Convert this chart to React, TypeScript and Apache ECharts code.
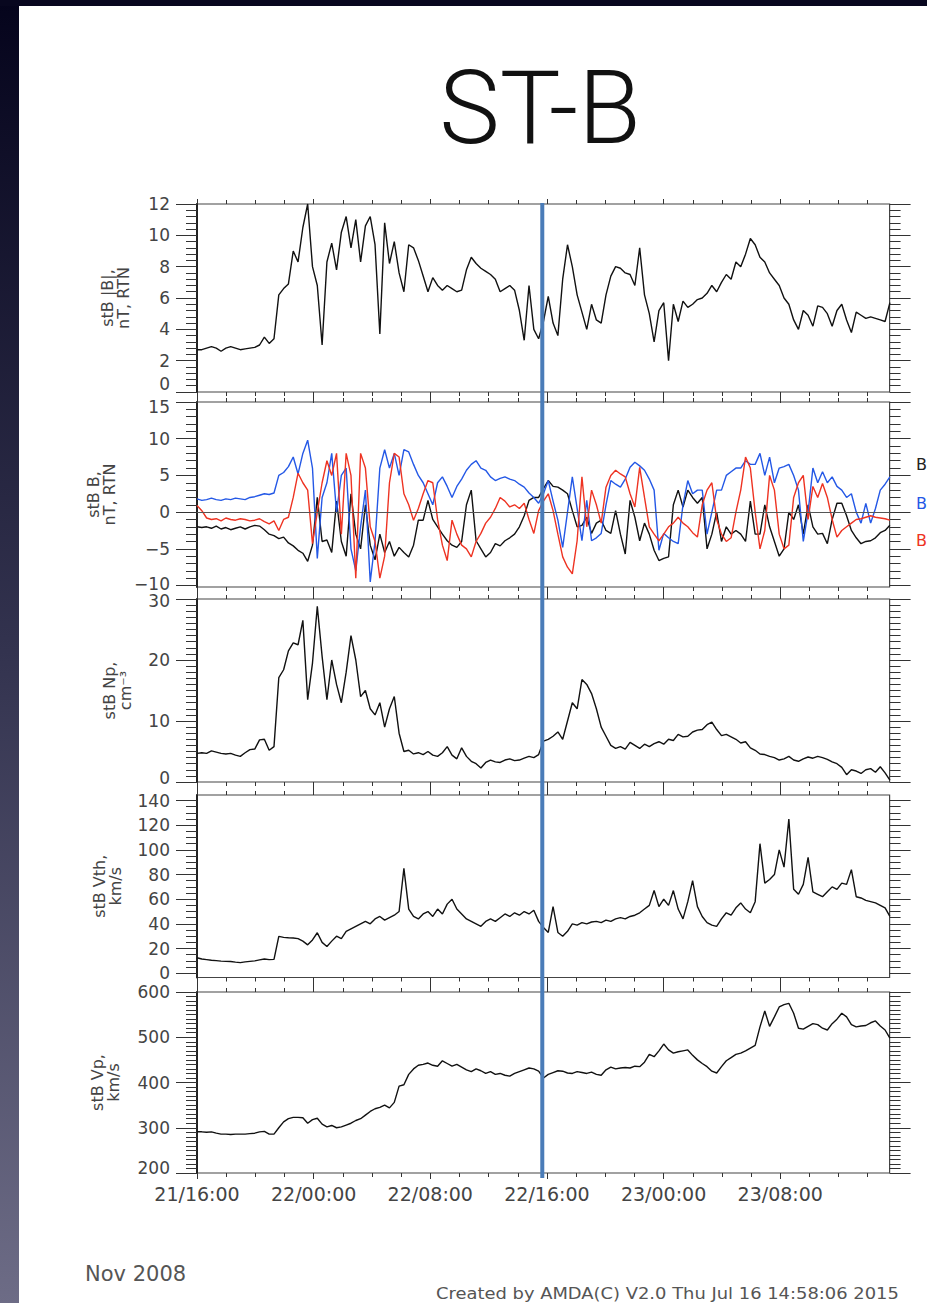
import React, { useEffect, useRef } from "react";
import * as echarts from "echarts";

// Time axis: hours since 2008-11-21 16:00 UT, one sample every 0.33 h
const SAMPLE_HOURS = 0.33;
const AXIS_END_HOURS = 47.5;
const MAJOR_HOURS = [0, 8, 16, 24, 32, 40];
const TIME_LABELS = ["21/16:00", "22/00:00", "22/08:00", "22/16:00", "23/00:00", "23/08:00"];
const MINOR_HOURS = [2, 4, 6, 10, 12, 14, 18, 20, 22, 26, 28, 30, 34, 36, 38, 42, 44, 46];
const MARKER_HOURS = 23.68;

// Y tick labels of the five panels
const B_TICKS = [0, 2, 4, 6, 8, 10, 12];
const BRTN_TICKS = [-10, -5, 0, 5, 10, 15];
const NP_TICKS = [0, 10, 20, 30];
const VTH_TICKS = [0, 20, 40, 60, 80, 100, 120, 140];
const VP_TICKS = [200, 300, 400, 500, 600];

// |B| (nT)
const B_MAG = [
  2.7, 2.7, 2.8, 2.9, 2.8, 2.6, 2.8, 2.9, 2.8, 2.7,
  2.75, 2.8, 2.85, 3.0, 3.5, 3.1, 3.4, 6.2, 6.6, 6.9,
  9.0, 8.3, 10.5, 12.0, 8.0, 6.8, 3.0, 8.3, 9.5, 7.8,
  10.2, 11.2, 9.2, 11.0, 8.3, 10.6, 11.2, 9.4, 3.7, 10.8,
  8.2, 9.6, 7.6, 6.4, 9.4, 9.2, 8.4, 7.4, 6.4, 7.3,
  6.8, 6.5, 6.8, 6.6, 6.4, 6.5, 7.8, 8.6, 8.2, 7.9,
  7.7, 7.5, 7.2, 6.4, 6.6, 6.8, 6.5, 5.2, 3.3, 6.8,
  4.0, 3.4, 4.5, 6.1, 4.4, 3.6, 7.2, 9.4, 8.0, 6.2,
  5.1, 4.0, 5.6, 4.6, 4.4, 6.2, 7.4, 8.0, 7.9, 7.6,
  7.5, 6.8, 9.2, 6.2, 5.0, 3.2, 5.2, 5.7, 2.0, 5.6,
  4.5, 5.8, 5.4, 5.6, 5.9, 6.0, 6.3, 6.8, 6.4, 7.0,
  7.5, 7.2, 8.3, 8.0, 8.8, 9.8, 9.4, 8.6, 8.3, 7.6,
  7.2, 6.8, 6.0, 5.6, 4.6, 4.0, 5.2, 4.9, 4.2, 5.5,
  5.4, 5.0, 4.2, 5.2, 5.6, 4.6, 3.8, 5.1, 4.9, 4.7,
  4.8, 4.7, 4.6, 4.5, 5.7,
];

// B components in RTN (nT)
const B_R = [
  -2.0, -2.1, -2.0, -2.2, -1.9, -2.3, -2.1, -2.4, -2.2, -2.0,
  -2.3, -2.0, -1.8, -1.9, -2.4, -3.0, -3.2, -3.6, -3.4, -4.2,
  -4.6, -5.2, -5.6, -6.7, -4.5, 2.0, -4.0, -3.8, -5.5, 1.5,
  -4.0, -6.0, 2.5, -3.0, -5.0, 1.0, -4.5, -6.5, -3.0, -5.5,
  -4.0, -6.0, -4.8, -5.5, -6.1, -4.5, -1.1, -1.1, 1.6, -1.0,
  -2.0, -3.0, -3.9, -4.5, -4.8, -4.0, 1.0, 3.0, -3.9, -5.0,
  -6.1, -5.5, -4.3, -4.6, -3.9, -3.5, -3.0, -2.0, -0.5, 1.6,
  2.0, 2.0, 3.2, 4.3, 3.5, 3.4, 3.0, 2.5, 0.2, -2.0,
  -1.8, -0.7, -2.9, -1.5, -1.1, -2.5, -2.9, 0.2, -3.0, -5.7,
  1.6, -0.7, -3.9, -1.5, -3.0, -5.2, -6.6, -6.3, -6.1, 1.0,
  3.0, 0.7, 3.0, 2.0, 1.2, 2.0, -5.0, -3.0, 0.0, -4.0,
  -2.0, -3.0, -2.5, -3.0, -4.0, 1.5, -3.0, -3.0, 1.0, -2.0,
  -4.0, -6.0, -5.0, 0.0, -1.0, 1.0, -3.0, 1.0, -2.0, -3.0,
  -2.9, -4.3, -1.0, 1.2, 1.2, -0.5, -2.5, -3.5, -4.3, -4.0,
  -3.9, -3.5, -2.8, -2.5, -1.8,
];
const B_T = [
  1.8, 1.6, 1.7, 1.9, 1.7, 1.6, 1.8, 1.7, 1.9, 1.8,
  1.7, 2.0, 2.1, 2.3, 2.5, 2.4, 2.6, 5.0, 5.4, 6.2,
  7.5, 5.2, 8.0, 9.8, 6.0, -6.3, 2.0, 4.0, 8.0, 0.0,
  5.0, 6.0, -5.0, -8.0, -2.0, 3.0, -9.5, -4.0, 6.0, 8.5,
  6.0, 8.0, 5.0, 8.5, 8.2, 6.5, 5.0, 4.0, 2.5, 1.0,
  4.0, 4.8, 3.5, 2.0, 3.5, 4.5, 5.7, 6.5, 7.0, 6.0,
  5.7, 4.8, 4.3, 4.6, 4.8, 4.5, 4.3, 3.8, 3.4, 2.6,
  2.0, 1.2, 2.5, 4.3, 1.5, -1.1, -4.8, 0.0, 4.8, 0.5,
  -3.9, 1.6, -3.9, -3.5, -2.9, 1.0, 4.3, 3.8, 3.4, 4.5,
  6.1, 6.8, 6.3, 5.7, 4.5, 3.0, -5.2, -2.9, -3.5, -4.0,
  -4.3, 1.0, 4.3, 2.5, 3.0, 3.0, -3.0, 0.0, 3.0, 3.0,
  5.0, 5.5, 6.0, 6.0, 7.0, 6.5, 6.5, 8.0, 5.0, 7.5,
  4.0, 6.0, 6.2, 6.5, 5.0, 3.0, -4.0, 0.0, 6.0, 4.0,
  5.5, 4.0, 4.8, 3.5, 3.0, 2.0, 2.5, 0.0, -1.5, 1.2,
  -1.5, 0.5, 3.0, 3.8, 4.8,
];
const B_N = [
  0.9, 0.2, -0.8, -1.0, -0.9, -1.2, -0.8, -1.0, -1.1, -0.9,
  -1.0, -1.2, -1.1, -0.9, -1.3, -1.6, -1.2, -2.5, -1.0, -0.7,
  2.0, 5.3, 4.0, 3.0, -4.3, 0.0, 4.0, 7.0, 5.0, 8.0,
  -3.0, 8.0, 5.0, -9.0, 8.0, 6.0, -2.0, -4.0, -9.0, -6.0,
  4.0, 8.0, 7.5, 2.5, 1.0, -1.1, 0.5, 2.5, 4.3, 4.0,
  -1.0, -4.5, -6.6, -1.1, -3.0, -4.5, -5.0, -6.1, -4.0, -2.9,
  -1.5, -0.7, 0.5, 2.0, 1.5, 0.7, 1.0, 0.5, 1.2, -1.0,
  -2.9, 0.2, 1.5, 2.5, 0.2, -3.0, -6.1, -7.5, -8.4, -3.9,
  4.8, -2.0, 3.0, 1.0, -1.5, 3.4, 5.0, 5.7, 5.2, 4.8,
  2.5, 0.7, 6.1, 2.0, -2.0, -3.0, -3.9, -3.0, -2.0, -1.5,
  -0.7, -1.5, -2.0, -2.8, -3.4, 1.0, 3.0, 4.0, -1.0, -3.0,
  -4.0, -3.5, 0.0, 3.0, 7.5, 6.0, 0.0, -5.0, -2.5, 5.0,
  3.0, -3.0, -5.0, -4.5, 2.0, 4.0, 5.0, -1.0, 3.5, 2.0,
  3.9, 2.0, -1.0, -3.4, -2.5, -2.0, -1.5, -1.0, -0.9, -0.7,
  -0.5, -0.7, -0.8, -0.9, -1.1,
];

// Proton density (cm-3)
const NP = [
  4.7, 4.8, 4.7, 5.1, 4.9, 4.7, 4.6, 4.7, 4.4, 4.2,
  4.8, 5.3, 5.4, 6.9, 7.0, 5.2, 5.8, 17.1, 18.4, 21.5,
  22.8, 22.5, 26.5, 13.5, 19.5, 28.8, 20.6, 13.5, 20.0, 16.0,
  13.0, 18.0, 24.0, 20.0, 14.0, 15.0, 12.0, 11.0, 13.0, 9.0,
  12.0, 14.0, 8.0, 5.0, 5.2, 4.6, 4.8, 4.5, 5.0, 4.4,
  4.2, 4.8, 5.8, 4.4, 3.8, 5.6, 4.2, 3.4, 3.0, 2.3,
  3.2, 3.6, 3.3, 3.2, 3.6, 3.8, 3.5, 3.6, 3.9, 4.2,
  4.0, 4.5, 6.7, 7.0, 7.5, 8.2, 7.0, 10.0, 13.0, 12.0,
  16.8, 16.0, 14.5, 12.0, 9.0, 7.5, 6.0, 5.5, 5.8, 5.4,
  6.5, 6.0, 5.5, 6.2, 5.8, 6.3, 6.6, 6.2, 7.0, 6.8,
  7.8, 7.4, 7.5, 8.2, 8.5, 8.6, 9.4, 9.8, 8.6, 7.6,
  7.8, 7.4, 7.0, 6.4, 6.6, 5.6, 5.2, 4.6, 4.5, 4.2,
  4.0, 3.6, 3.8, 4.2, 3.6, 3.4, 3.8, 4.1, 3.9, 4.2,
  4.0, 3.7, 3.3, 3.0, 2.4, 1.2, 2.0, 1.8, 1.4, 2.0,
  2.2, 1.6, 2.5, 1.5, 0.3,
];

// Proton thermal speed (km/s)
const VTH = [
  12.5, 11.5, 11.0, 10.5, 10.2, 9.8, 9.6, 9.5, 9.0, 8.6,
  9.2, 9.6, 10.0, 10.8, 11.5, 11.0, 11.2, 29.8, 29.0, 28.7,
  28.5, 28.0, 26.0, 23.0, 27.0, 32.8, 25.0, 21.7, 26.0, 30.0,
  28.0, 34.0, 36.0, 38.0, 40.0, 42.0, 40.0, 44.0, 46.0, 43.0,
  45.0, 47.0, 50.0, 85.0, 52.0, 46.0, 44.0, 48.0, 50.0, 46.0,
  52.0, 48.0, 56.0, 60.0, 52.0, 48.0, 44.0, 42.0, 40.0, 38.0,
  42.0, 44.0, 42.0, 45.0, 48.0, 46.0, 49.0, 47.0, 50.0, 48.0,
  51.0, 42.0, 37.0, 33.0, 54.0, 33.0, 30.0, 34.0, 40.0, 39.0,
  41.0, 40.0, 41.5, 42.0, 41.0, 43.0, 42.0, 44.0, 45.0, 44.0,
  46.0, 47.0, 49.0, 52.0, 55.0, 67.0, 54.0, 60.0, 55.0, 67.0,
  52.0, 44.0, 58.0, 75.0, 54.0, 46.0, 41.0, 39.0, 38.0, 44.0,
  49.0, 47.0, 53.0, 57.0, 52.0, 49.0, 58.0, 105.0, 73.0, 76.0,
  80.0, 100.0, 86.0, 125.0, 68.0, 64.0, 72.0, 94.0, 66.0, 64.0,
  62.0, 66.0, 70.0, 68.0, 73.0, 72.0, 84.0, 62.0, 61.0, 59.0,
  58.0, 57.0, 55.0, 53.0, 46.0,
];

// Proton bulk speed (km/s)
const VP = [
  291, 291, 290, 291, 288, 286, 286, 285, 286, 286,
  286, 287, 288, 291, 292, 286, 286, 300, 313, 320,
  323, 323, 322, 310, 318, 321, 308, 302, 305, 300,
  302, 306, 310, 316, 320, 328, 336, 342, 345, 350,
  344, 356, 392, 395, 418, 430, 438, 440, 443, 438,
  436, 448, 442, 436, 440, 434, 428, 424, 430, 426,
  420, 424, 418, 420, 416, 414, 420, 424, 428, 432,
  430, 425, 410, 418, 422, 426, 425, 421, 420, 424,
  422, 420, 423, 418, 416, 428, 434, 430, 432, 433,
  432, 436, 435, 445, 462, 457, 470, 485, 472, 465,
  468, 470, 472, 460, 450, 442, 435, 425, 421, 435,
  448, 455, 462, 465, 470, 476, 482, 523, 558, 524,
  545, 567, 572, 575, 553, 520, 518, 524, 530, 528,
  520, 516, 530, 540, 553, 545, 528, 523, 525, 526,
  532, 536, 525, 516, 498,
];

const W = 927;
const H = 1303;
const PLOT_LEFT = 197;
const PLOT_WIDTH = 692.6;
const TEXT_COLOR = "#444";
const TICK_COLOR = "#333";
const LABEL_FONT = "DejaVu Sans";
const BLUE = "#2458e6";
const RED = "#ee3322";

// Panel layout; shiftUp / shiftDown nudge the end labels away from the neighbouring panel
const PANELS = [
  { top: 204, height: 188, min: 0, max: 12, ticks: B_TICKS, minorStep: 0.4, title: "stB |B|,\nnT, RTN", titleX: 115, shiftUp: 8, shiftDown: 0 },
  { top: 402, height: 185, min: -10.2, max: 15, ticks: BRTN_TICKS, minorStep: 1, title: "stB B,\nnT, RTN", titleX: 101, shiftUp: 2, shiftDown: 5 },
  { top: 599, height: 183, min: 0, max: 30, ticks: NP_TICKS, minorStep: 1, title: "stB Np,\ncm\u207B\u00B3", titleX: 117, shiftUp: 4, shiftDown: 2 },
  { top: 795, height: 182.5, min: -3.5, max: 144.5, ticks: VTH_TICKS, minorStep: 5, title: "stB Vth,\nkm/s", titleX: 107, shiftUp: 0, shiftDown: 0 },
  { top: 992, height: 181, min: 200, max: 600, ticks: VP_TICKS, minorStep: 10, title: "stB Vp,\nkm/s", titleX: 105, shiftUp: 5, shiftDown: 0 },
];

function minorValues(ticks: number[], step: number, min: number, max: number) {
  const out: number[] = [];
  const start = ticks[0];
  const n = Math.round((ticks[ticks.length - 1] - start) / step);
  for (let k = 0; k <= n; k++) {
    const v = +(start + k * step).toFixed(4);
    if (v < min || v > max) continue;
    if (ticks.some((t) => Math.abs(t - v) < 1e-6)) continue;
    out.push(v);
  }
  return out;
}

function toPoints(values: number[]) {
  return values.map((v, i) => [+(i * SAMPLE_HOURS).toFixed(3), v]);
}

function buildOption() {
  const grid: any[] = [];
  const xAxis: any[] = [];
  const yAxis: any[] = [];
  const mainX: number[] = [];
  const mainY: number[] = [];

  const makeX = (gi: number, position: string, values: number[], length: number, labels: boolean) => ({
    type: "value",
    gridIndex: gi,
    position,
    min: 0,
    max: AXIS_END_HOURS,
    axisLine: { show: false, onZero: false },
    axisTick: { show: true, inside: false, length, customValues: values, lineStyle: { color: TICK_COLOR, width: 1 } },
    axisLabel: labels
      ? {
          show: true,
          customValues: MAJOR_HOURS,
          formatter: (v: number) => {
            const k = MAJOR_HOURS.indexOf(Math.round(v));
            return k >= 0 ? TIME_LABELS[k] : "";
          },
          margin: 11,
          fontSize: 19,
          fontFamily: LABEL_FONT,
          color: TEXT_COLOR,
        }
      : { show: false },
    splitLine: { show: false },
  });

  const makeY = (gi: number, position: string, p: any, values: number[], length: number, labels: boolean, line: boolean) => {
    const base = { fontSize: 17, fontFamily: LABEL_FONT, color: TEXT_COLOR, lineHeight: 14 };
    return {
      type: "value",
      gridIndex: gi,
      position,
      min: p.min,
      max: p.max,
      axisLine: { show: line, onZero: false, lineStyle: { color: "#222", width: 2 } },
      axisTick: { show: true, inside: false, length, customValues: values, lineStyle: { color: TICK_COLOR, width: 1 } },
      axisLabel: labels
        ? {
            show: true,
            customValues: p.ticks,
            margin: 27,
            ...base,
            formatter: (v: number) => {
              const s = v < 0 ? "\u2212" + Math.abs(v) : String(v);
              if (v === p.ticks[0] && p.shiftUp) return "{lo|" + s + "}";
              if (v === p.ticks[p.ticks.length - 1] && p.shiftDown) return "{hi|" + s + "}";
              return "{n|" + s + "}";
            },
            rich: {
              n: { ...base },
              lo: { ...base, padding: [0, 0, 2 * p.shiftUp, 0] },
              hi: { ...base, padding: [2 * p.shiftDown, 0, 0, 0] },
            },
          }
        : { show: false },
      splitLine: { show: false },
    };
  };

  PANELS.forEach((p, gi) => {
    grid.push({
      left: PLOT_LEFT,
      width: PLOT_WIDTH,
      top: p.top,
      height: p.height,
      show: true,
      borderColor: "#444",
      borderWidth: 1.2,
      backgroundColor: "transparent",
    });
    const last = gi === PANELS.length - 1;
    mainX[gi] = xAxis.length;
    xAxis.push(makeX(gi, "bottom", MAJOR_HOURS, last ? 6 : 11, last));
    xAxis.push(makeX(gi, "bottom", MINOR_HOURS, 4, false));
    xAxis.push(makeX(gi, "top", MAJOR_HOURS, 5, false));
    xAxis.push(makeX(gi, "top", MINOR_HOURS, 4, false));

    const minor = minorValues(p.ticks, p.minorStep, p.min, p.max);
    mainY[gi] = yAxis.length;
    yAxis.push(makeY(gi, "left", p, p.ticks, 21, true, true));
    yAxis.push(makeY(gi, "left", p, minor, 11, false, false));
    yAxis.push(makeY(gi, "right", p, p.ticks, 21, false, false));
    yAxis.push(makeY(gi, "right", p, minor, 11, false, false));
  });

  const line = (gi: number, values: number[], color: string, extra: any = {}) => ({
    type: "line",
    xAxisIndex: mainX[gi],
    yAxisIndex: mainY[gi],
    data: toPoints(values),
    showSymbol: false,
    symbol: "none",
    clip: true,
    silent: true,
    lineStyle: { color, width: 1.4 },
    z: 3,
    ...extra,
  });

  const series = [
    line(0, B_MAG, "#111"),
    line(1, B_R, "#111", {
      markLine: {
        silent: true,
        symbol: "none",
        label: { show: false },
        lineStyle: { color: "#555", width: 1, type: "solid" },
        data: [{ yAxis: 0 }],
      },
    }),
    line(1, B_T, BLUE),
    line(1, B_N, RED),
    line(2, NP, "#111"),
    line(3, VTH, "#111"),
    line(4, VP, "#111"),
  ];

  return {
    animation: false,
    backgroundColor: "#ffffff",
    grid,
    xAxis,
    yAxis,
    series,
  };
}

function buildGraphics(markerX: number) {
  const text = (x: number, y: number, str: string, opts: any = {}) => ({
    type: "text",
    x,
    y,
    rotation: opts.rotation || 0,
    scaleX: opts.scaleX || 1,
    z: 50,
    style: {
      text: str,
      fill: opts.color || TEXT_COLOR,
      fontSize: opts.fontSize || 16,
      fontFamily: opts.fontFamily || LABEL_FONT,
      fontWeight: opts.fontWeight || "normal",
      lineHeight: opts.lineHeight,
      align: opts.align || "left",
      textAlign: opts.align || "left",
      verticalAlign: "middle",
      textVerticalAlign: "middle",
    },
  });

  const els: any[] = [
    {
      type: "rect",
      z: 60,
      shape: { x: 0, y: 0, width: 19, height: H },
      style: {
        fill: new echarts.graphic.LinearGradient(0, 0, 0, 1, [
          { offset: 0, color: "#05041c" },
          { offset: 0.5, color: "#33334f" },
          { offset: 1, color: "#6d6c86" },
        ]),
      },
    },
    { type: "rect", z: 60, shape: { x: 0, y: 0, width: W, height: 6 }, style: { fill: "#08071f" } },
    text(540, 108, "ST-B", { fontSize: 102, fontFamily: "Roboto", fontWeight: 300, color: "#111", align: "center" }),
    // component legend at the right edge of the RTN panel
    text(916, 464, "B", { color: "#222", fontSize: 16 }),
    text(916, 503, "B", { color: BLUE, fontSize: 16 }),
    text(916, 540, "B", { color: RED, fontSize: 16 }),
    text(85, 1274, "Nov 2008", { fontSize: 21, color: "#555" }),
    text(436, 1293, "Created by AMDA(C) V2.0 Thu Jul 16 14:58:06 2015", { fontSize: 16, color: "#555", scaleX: 1.12 }),
    {
      type: "line",
      z: 100,
      shape: { x1: markerX, y1: 203, x2: markerX, y2: 1178 },
      style: { stroke: "#4a7cb8", lineWidth: 4 },
    },
  ];
  PANELS.forEach((p) => {
    els.push(
      text(p.titleX, p.top + p.height / 2, p.title, {
        rotation: Math.PI / 2,
        align: "center",
        fontSize: 16,
        lineHeight: 16,
      })
    );
  });
  return els;
}

export default function App() {
  const ref = useRef<HTMLDivElement>(null);
  useEffect(() => {
    if (!ref.current) return;
    const chart = echarts.init(ref.current, undefined, { renderer: "svg", width: W, height: H });
    chart.setOption(buildOption() as any);
    const mx = chart.convertToPixel({ xAxisIndex: 0 } as any, MARKER_HOURS) as unknown as number;
    chart.setOption({ graphic: buildGraphics(mx) } as any);
    return () => chart.dispose();
  }, []);
  return (
    <div
      ref={ref}
      style={{ position: "fixed", left: 0, top: 0, width: W, height: H, background: "#fff" }}
    />
  );
}
